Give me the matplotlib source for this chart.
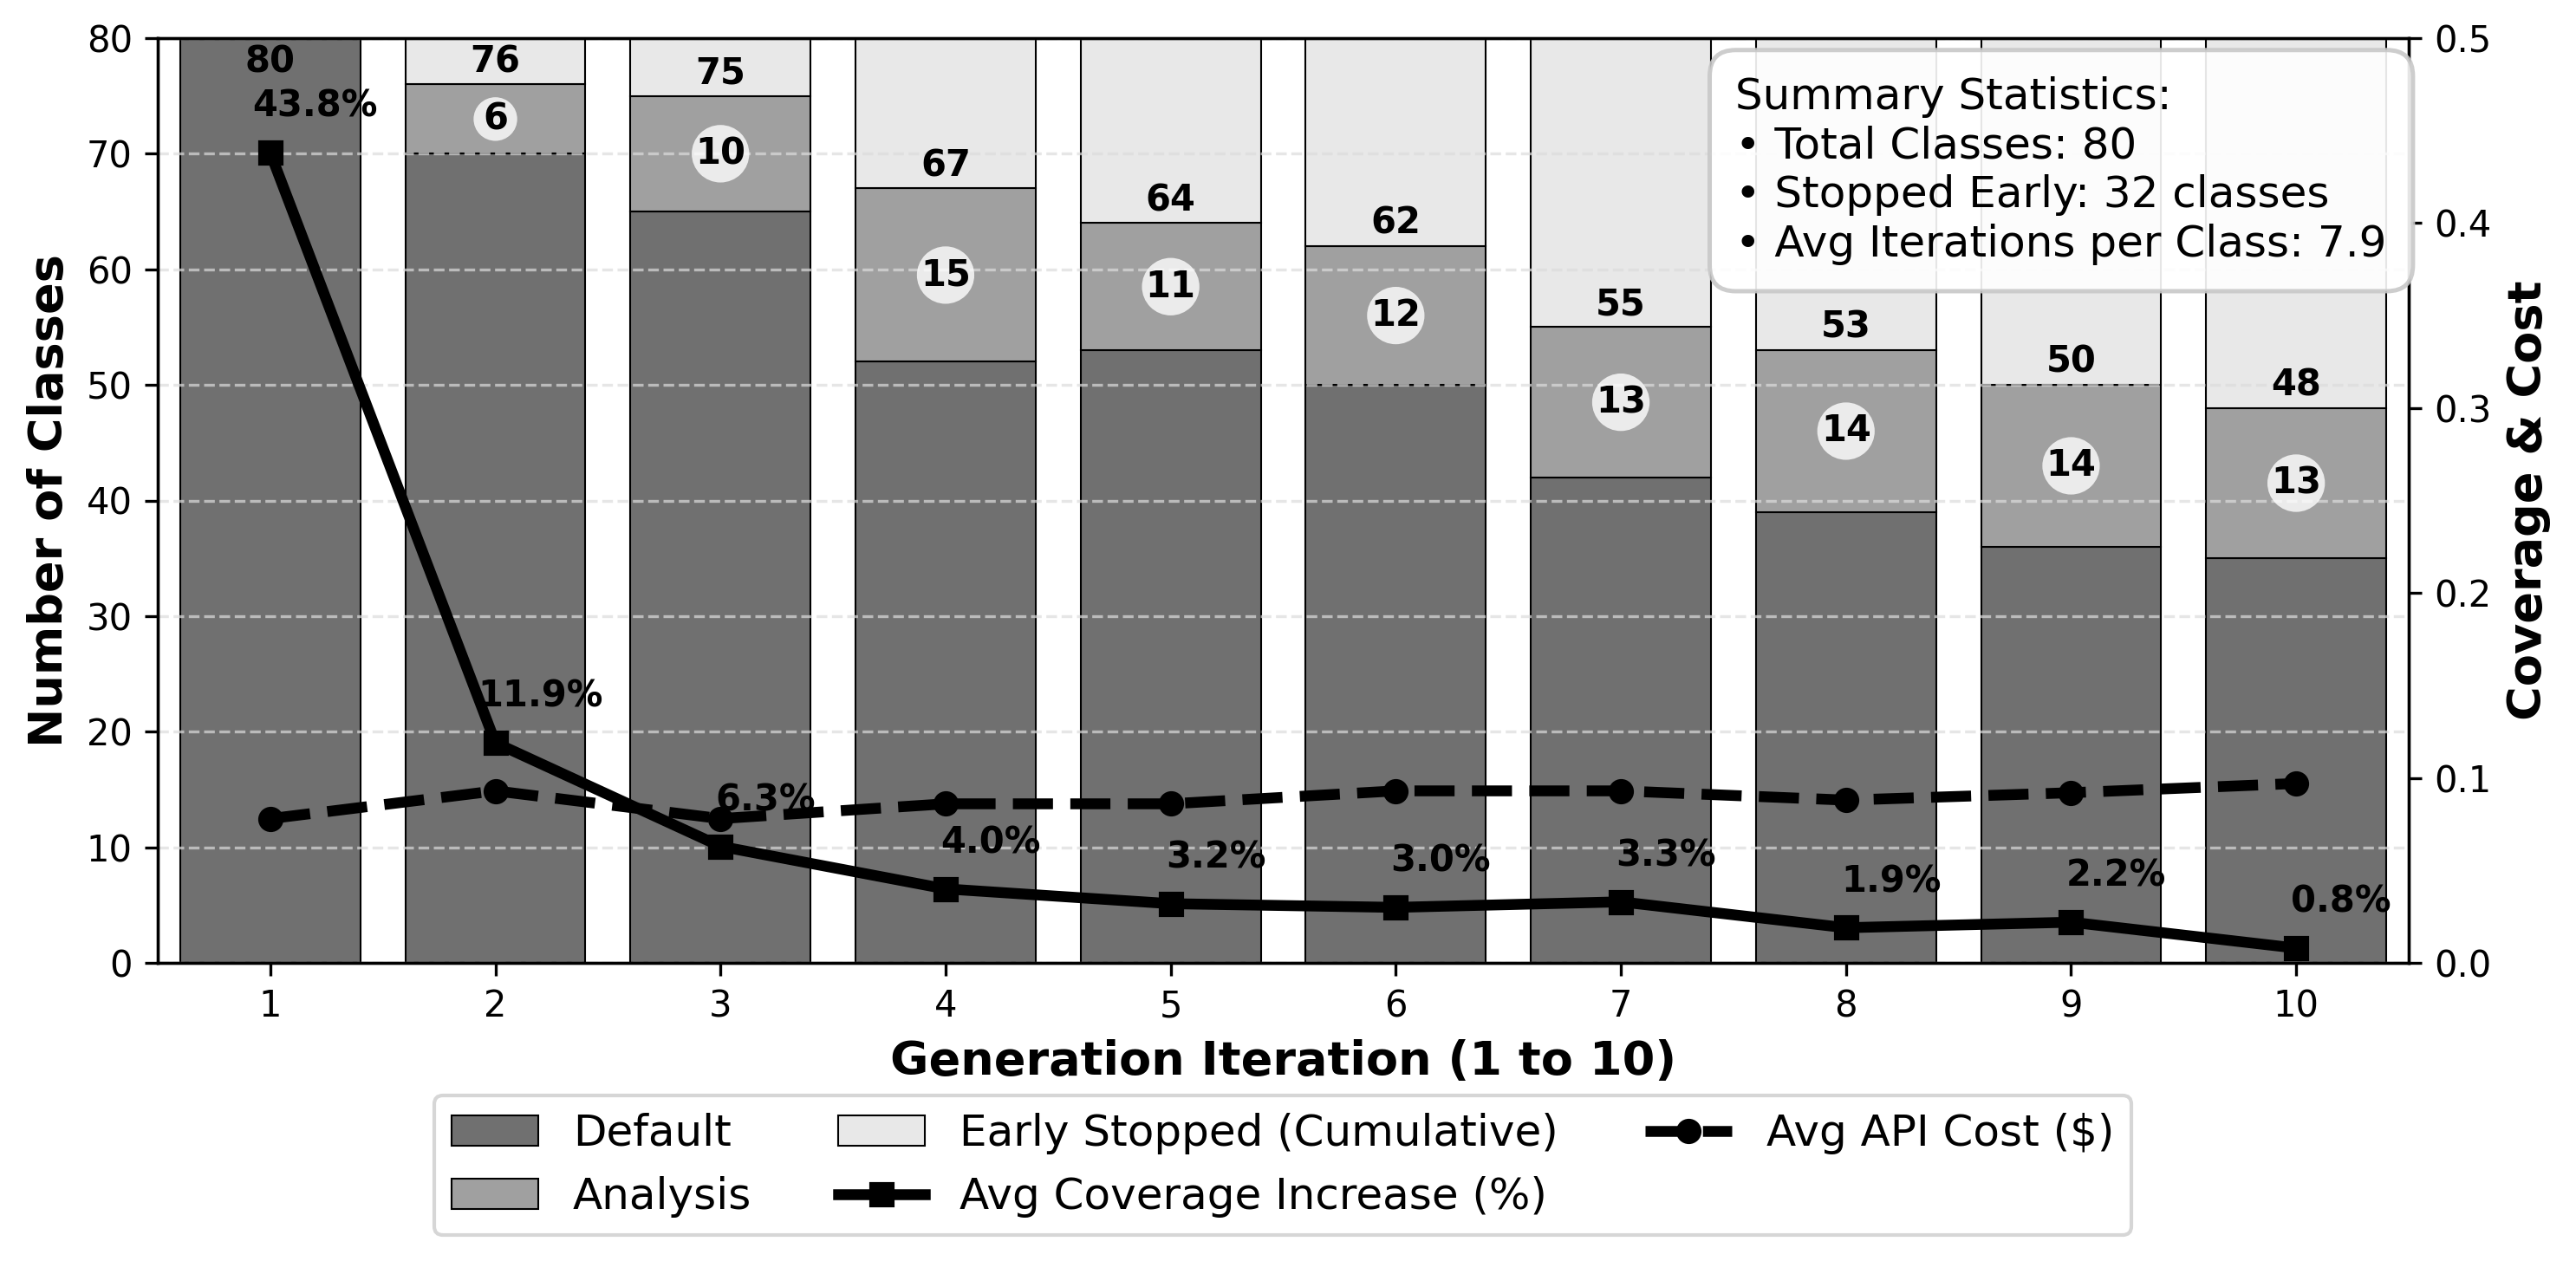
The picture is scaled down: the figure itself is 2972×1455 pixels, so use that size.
import numpy as np
import matplotlib
matplotlib.use("Agg")
import matplotlib.pyplot as plt

# ---- data ----
iterations = [1, 2, 3, 4, 5, 6, 7, 8, 9, 10]
default_counts = [80, 70, 65, 52, 53, 50, 42, 39, 36, 35]
analysis_counts = [0, 6, 10, 15, 11, 12, 13, 14, 14, 13]
early_stopped = [0, 4, 5, 13, 16, 18, 25, 27, 30, 32]
coverage_pct = [43.8, 11.9, 6.3, 4.0, 3.2, 3.0, 3.3, 1.9, 2.2, 0.8]
api_cost = [0.078, 0.093, 0.078, 0.086, 0.086, 0.093, 0.093, 0.088, 0.092, 0.097]
summary_lines = ["Summary Statistics:",
                 "\u2022 Total Classes: 80",
                 "\u2022 Stopped Early: 32 classes",
                 "\u2022 Avg Iterations per Class: 7.9"]

W, H, DPI = 2972, 1455, 300
fig = plt.figure(figsize=(W / DPI, H / DPI), dpi=DPI)
ax = fig.add_axes([182 / W, 1 - 1111 / H, (2779 - 182) / W, (1111 - 44) / H])

x = np.array(iterations)
d = np.array(default_counts)
a = np.array(analysis_counts)
e = np.array(early_stopped)
active = d + a

c_default, c_analysis, c_early = '#707070', '#a0a0a0', '#e8e8e8'
bw = 0.8
ax.bar(x, d, bw, color=c_default, edgecolor='black', linewidth=0.5, label='Default')
ax.bar(x, a, bw, bottom=d, color=c_analysis, edgecolor='black', linewidth=0.5, label='Analysis')
ax.bar(x, e, bw, bottom=active, color=c_early, edgecolor='black', linewidth=0.5,
       label='Early Stopped (Cumulative)')

ax.set_xlim(0.5, 10.5)
ax.set_ylim(0, 80)
ax.set_xticks(x)
ax.set_yticks(np.arange(0, 81, 10))
ax.tick_params(labelsize=10)
ax.grid(axis='y', linestyle='--', color='#dcdcdc', alpha=0.7, linewidth=0.8)
ax.set_xlabel('Generation Iteration (1 to 10)', fontsize=13, fontweight='bold')
ax.set_ylabel('Number of Classes', fontsize=13, fontweight='bold')

for xi, tot, di, ai in zip(x, active, d, a):
    ty = tot + 0.4 if tot < 78 else tot - 3.6
    ax.text(xi, ty, f'{tot}', ha='center', va='bottom', fontsize=10, fontweight='bold')
    if ai > 0:
        ax.text(xi, di + ai / 2, f'{ai}', ha='center', va='center', fontsize=10,
                fontweight='bold',
                bbox=dict(boxstyle='circle,pad=0.1', facecolor='white', alpha=0.8,
                          edgecolor='none'))

ax2 = ax.twinx()
cov = np.array(coverage_pct) / 100.0
ax2.plot(x, cov, color='black', linestyle='-', linewidth=3, marker='s', markersize=6,
         label='Avg Coverage Increase (%)')
ax2.plot(x, api_cost, color='black', linestyle='--', linewidth=3, marker='o', markersize=6,
         label='Avg API Cost (\\$)')
ax2.set_ylim(0, 0.5)
ax2.set_yticks(np.arange(0, 0.51, 0.1))
ax2.tick_params(labelsize=10)
ax2.set_ylabel('Coverage & Cost', fontsize=13, fontweight='bold')

for xi, cv, pct in zip(x, cov, coverage_pct):
    ax2.text(xi + 0.2, cv + 0.025, f'{pct:.1f}%', ha='center', va='center',
             fontsize=10, fontweight='bold')

ax2.text(0.701, 0.959, "\n".join(summary_lines), transform=ax2.transAxes,
         ha='left', va='top', fontsize=12, linespacing=1.23,
         bbox=dict(boxstyle='round,pad=0.6', facecolor='white', alpha=0.9,
                   edgecolor='#c8c8c8', linewidth=1.2))

h1, l1 = ax.get_legend_handles_labels()
h2, l2 = ax2.get_legend_handles_labels()
fig.legend(h1 + h2, l1 + l2, loc='upper center', ncol=3, fontsize=12,
           bbox_to_anchor=(1480 / W, 1 - 1264 / H), borderaxespad=0)

fig.savefig('out.png', dpi=DPI)
